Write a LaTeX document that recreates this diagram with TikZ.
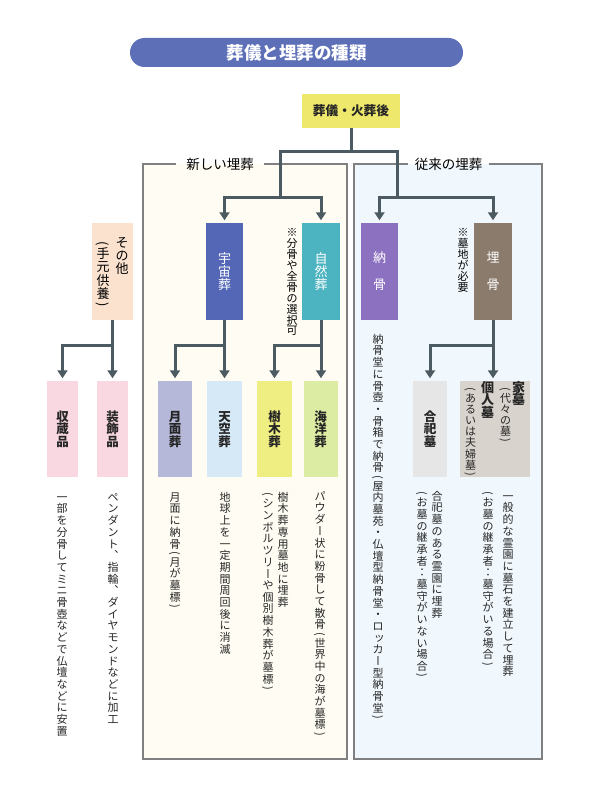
\documentclass[tikz,border=0pt]{standalone}
\usepackage{fontspec}
\setmainfont{Noto Sans CJK JP}
\usetikzlibrary{arrows.meta}
\definecolor{cTitle}{HTML}{5C6FB7}
\definecolor{cTop}{HTML}{EEE86C}
\definecolor{cSonota}{HTML}{FBE2CF}
\definecolor{cUchu}{HTML}{5367B6}
\definecolor{cShizen}{HTML}{4CB4C0}
\definecolor{cNoko}{HTML}{8D71C1}
\definecolor{cMai}{HTML}{8A7B6D}
\definecolor{cPink}{HTML}{F9D8E1}
\definecolor{cGetsu}{HTML}{B5B8D8}
\definecolor{cTenku}{HTML}{D6E9F7}
\definecolor{cJumoku}{HTML}{EEEE82}
\definecolor{cKaiyo}{HTML}{DCECA2}
\definecolor{cGoshi}{HTML}{E6E6E6}
\definecolor{cKabo}{HTML}{D9D3CD}
\definecolor{cNewBg}{HTML}{FFFDF3}
\definecolor{cOldBg}{HTML}{F1F8FD}
\definecolor{cFrame}{HTML}{808080}
\definecolor{cConn}{HTML}{4B5B61}
\definecolor{cDesc}{HTML}{262626}
\newcommand\fsz[1]{\fontsize{#1}{#1}\selectfont}
\makeatletter
\newdimen\vt@p
\newcommand\vcol[2][1.06em]{\vtop{\offinterlineskip\setlength\vt@p{#1}\vt@loop#2\relax}}
\def\vt@loop#1{\ifx\relax#1\else\vt@cell{#1}\expandafter\vt@loop\fi}
\def\vt@strut{\vrule width0pt height\dimexpr0.38em+0.5\vt@p\relax depth\dimexpr0.5\vt@p-0.38em\relax}
\def\vt@full#1{\hbox to 1em{\vt@strut\hss\raisebox{0pt}[0pt][0pt]{#1}\hss}}
\def\vt@rot#1{\rotatebox[origin=c]{-90}{\hbox{\vrule width0pt height0.88em depth0.12em#1}}}
\def\vt@half#1{\hbox to 1em{\vrule width0pt height0.55\vt@p depth0pt\hss\raisebox{\dimexpr0.275\vt@p-0.38em\relax}[0pt][0pt]{\vt@rot{#1}}\hss}}
\def\vt@cell#1{%
  \ifx#1（\vt@half{(}\else
  \ifx#1）\vt@half{)}\else
  \ifx#1ー\vt@full{\vt@rot{ー}}\else
  \ifx#1、\vt@full{︑}\else
  \ifx#1ッ\vt@full{\rlap{\kern-0.38em\raisebox{0.1em}{ッ}}}\else
  \vt@full{#1}%
  \fi\fi\fi\fi\fi}
\makeatother
\begin{document}
\begin{tikzpicture}[x=1pt,y=-1pt,
  conn/.style={draw=cConn,line width=3pt},
  arr/.style={-{Triangle[width=10pt,length=8pt]},shorten >=2.5pt},
  cbox/.style={inner sep=0pt,draw=none},
  frm/.style={draw=cFrame,line width=1.3pt},
  flbl/.style={inner ysep=0pt,font=\fsz{13.5},text=black},
  dsc/.style={anchor=north,inner sep=0pt,font=\fsz{11},text=cDesc},
  nnote/.style={anchor=north,inner sep=0pt,font=\fsz{11},text=black},
  lbl3/.style={cbox,minimum height=96pt,font=\bfseries\fsz{12.5},text=black!85}]
\useasboundingbox (0,0) rectangle (597,800);
\fill[white] (0,0) rectangle (597,800);

% title
\node[cbox,fill=cTitle,rounded corners=14.5pt,minimum width=333pt,minimum height=29pt,text=white,font=\bfseries\fsz{17.5}] (title) at (296.5,52.5) {葬儀と埋葬の種類};

% top node
\node[cbox,fill=cTop,minimum width=98pt,minimum height=34pt,font=\bfseries\fsz{12.7},text=black!85] (top) at (351,111) {葬儀・火葬後};

% frames
\fill[cNewBg] (143,164) rectangle (347,759);
\fill[cOldBg] (354,164) rectangle (542,759);
\node[flbl,inner xsep=10.5pt] (lnew) at (220,164) {新しい埋葬};
\node[flbl,inner xsep=7pt] (lold) at (448.5,164) {従来の埋葬};
\draw[frm] (lnew.east) -- (347,164) -- (347,759) -- (143,759) -- (143,164) -- (lnew.west);
\draw[frm] (lold.east) -- (542,164) -- (542,759) -- (354,759) -- (354,164) -- (lold.west);

% second row boxes
\node[cbox,fill=cSonota,minimum width=41pt,minimum height=97pt,font=\fsz{13}] (sonota) at (112.5,271.5) {\vcol[13.3pt]{（手元供養）}\kern6pt\vcol[13.3pt]{その他}};
\node[cbox,fill=cUchu,minimum width=37pt,minimum height=97pt,font=\fsz{13},text=white] (uchu) at (224.5,271.5) {\vcol[13.3pt]{宇宙葬}};
\node[cbox,fill=cShizen,minimum width=38pt,minimum height=97pt,font=\fsz{13},text=white] (shizen) at (321,271.5) {\vcol[13.3pt]{自然葬}};
\node[cbox,fill=cNoko,minimum width=37pt,minimum height=97pt,font=\fsz{13},text=white] (noko) at (379.5,271.5) {\vcol[13.5pt]{納　骨}};
\node[cbox,fill=cMai,minimum width=38pt,minimum height=97pt,font=\fsz{13},text=white] (mai) at (493,271.5) {\vcol[13.5pt]{埋　骨}};

\node[nnote] (n1) at (292,227) {\vcol[10.9pt]{※分骨や全骨の選択可}};
\node[nnote] (n2) at (463,227) {\vcol[10.9pt]{※墓地が必要}};

% third row boxes
\node[lbl3,fill=cPink,minimum width=31pt] (shuzo) at (62.5,429) {\vcol[12.7pt]{収蔵品}};
\node[lbl3,fill=cPink,minimum width=31pt] (soshoku) at (112.5,429) {\vcol[12.7pt]{装飾品}};
\node[lbl3,fill=cGetsu,minimum width=34pt] (getsu) at (175,429) {\vcol[12.7pt]{月面葬}};
\node[lbl3,fill=cTenku,minimum width=35pt] (tenku) at (224.5,429) {\vcol[12.7pt]{天空葬}};
\node[lbl3,fill=cJumoku,minimum width=35pt] (jumoku) at (274.5,429) {\vcol[12.7pt]{樹木葬}};
\node[lbl3,fill=cKaiyo,minimum width=34pt] (kaiyo) at (320.5,429) {\vcol[12.7pt]{海洋葬}};
\node[lbl3,fill=cGoshi,minimum width=34pt] (goshi) at (430,429) {\vcol[12.7pt]{合祀墓}};
\node[cbox,fill=cKabo,minimum width=70pt,minimum height=96pt,text=black!85] (kabo) at (495,429) {{\fsz{11}\vcol[11.2pt]{（あるいは夫婦墓）}}\kern5pt{\bfseries\fsz{13}\vcol[12.5pt]{個人墓}}\kern6pt{\fsz{11}\vcol[11.2pt]{（代々の墓）}}\kern1pt{\bfseries\fsz{13}\vcol[12.5pt]{家墓}}};

% connectors
\coordinate (jT) at (351,151);
\coordinate (jL) at (280,197);
\coordinate (jR) at (397,197);
\draw[conn] (top.south) -- (jT);
\draw[conn] (jL) |- (jT) -| (jR);
\draw[conn,arr] (jL) -| (uchu.north);
\draw[conn,arr] (jL) -| (shizen.north);
\draw[conn,arr] (jR) -| (noko.north);
\draw[conn,arr] (jR) -| (mai.north);

\draw[conn] (sonota.south) -- ++(0,25) coordinate (s1);
\draw[conn,arr] (s1) -| (shuzo.north);
\draw[conn,arr] (s1) -- (s1 |- soshoku.north);
\draw[conn] (uchu.south) -- ++(0,25) coordinate (u1);
\draw[conn,arr] (u1) -| (getsu.north);
\draw[conn,arr] (u1) -- (u1 |- tenku.north);
\draw[conn] (shizen.south) -- ++(0,25) coordinate (z1);
\draw[conn,arr] (z1) -| (jumoku.north);
\draw[conn,arr] (z1) -- (z1 |- kaiyo.north);
\draw[conn] (mai.south) -- ++(0,25) coordinate (m1);
\draw[conn,arr] (m1) -| (goshi.north);
\draw[conn,arr] (m1) -- (m1 |- kabo.north);

% descriptions
\node[dsc] (d1) at (62,491) {\vcol[11.7pt]{一部を分骨してミニ骨壺などで仏壇などに安置}};
\node[dsc] (d2) at (113,491) {\vcol[11.7pt]{ペンダント、指輪、ダイヤモンドなどに加工}};
\node[dsc] (d3) at (175,491) {\vcol[11.7pt]{月面に納骨（月が墓標）}};
\node[dsc] (d4) at (225,491) {\vcol[11.7pt]{地球上を一定期間周回後に消滅}};
\node[dsc] (d5a) at (283,491) {\vcol[11.7pt]{樹木葬専用墓地に埋葬}};
\node[dsc] (d5b) at (268,491) {\vcol[11.7pt]{（シンボルツリーや個別樹木葬が墓標）}};
\node[dsc] (d6) at (320,490) {\vcol[11.7pt]{パウダー状に粉骨して散骨（世界中の海が墓標）}};
\node[dsc] (d7) at (378,333) {\vcol[11.7pt]{納骨堂に骨壺・骨箱で納骨（屋内墓苑・仏壇型納骨堂・ロッカー型納骨堂）}};
\node[dsc] (d8a) at (437,490) {\vcol[11.7pt]{合祀墓のある霊園に埋葬}};
\node[dsc] (d8b) at (422,490) {\vcol[11.7pt]{（お墓の継承者：墓守がいない場合）}};
\node[dsc] (d9a) at (508,490) {\vcol[11.7pt]{一般的な霊園に墓石を建立して埋葬}};
\node[dsc] (d9b) at (488,490) {\vcol[11.7pt]{（お墓の継承者：墓守がいる場合）}};
\end{tikzpicture}
\end{document}
